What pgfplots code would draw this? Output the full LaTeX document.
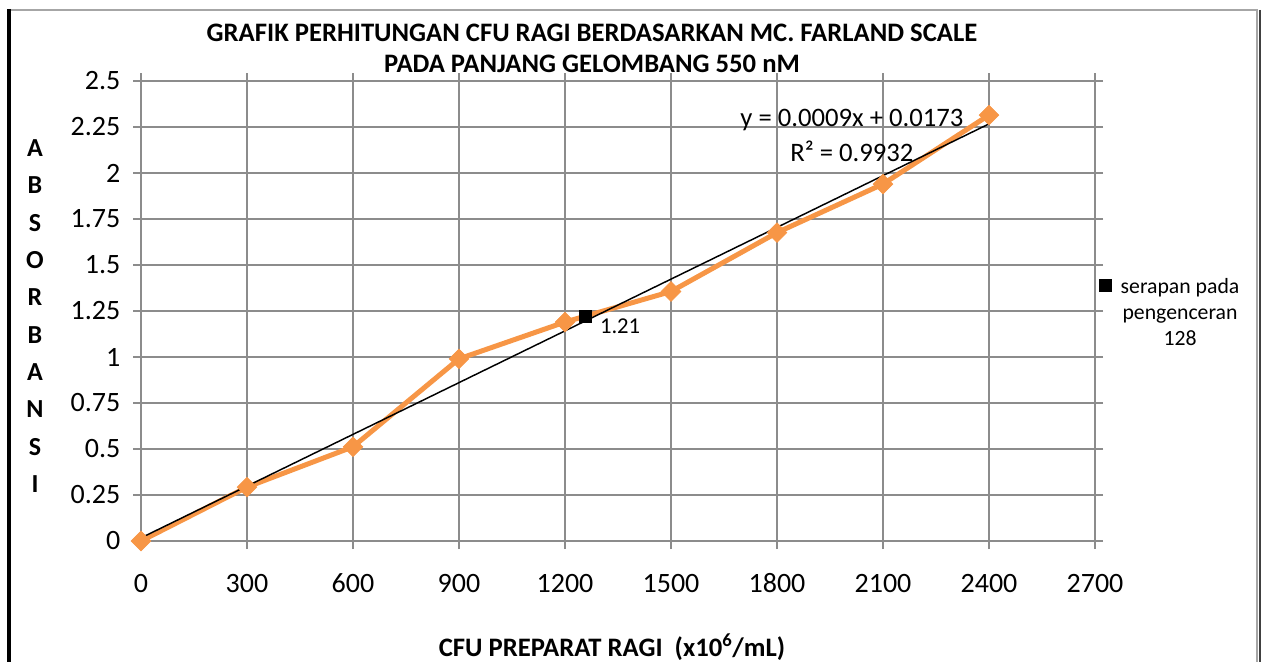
\documentclass[border=0pt]{standalone}
\usepackage{pgfplots}
\pgfplotsset{compat=1.18}
\usepackage{fontspec}
\setmainfont{Carlito}
\definecolor{xlorange}{HTML}{F79646}
\definecolor{gridgray}{HTML}{8C8C8C}
\begin{document}
\begin{tikzpicture}
\begin{scope}[x=0.75pt,y=0.75pt]
\useasboundingbox (0,0) rectangle (1261,662);
% frame
\draw[gray!70, line width=1.5pt] (9,652) -- (1257,652) -- (1257,0);
\draw[black!75, line width=1.5pt] (1260,652) -- (1260,0);
\draw[black, line width=3pt] (9,653) -- (9,0);
% title
\node[font=\bfseries\fontsize{20}{23.3}\selectfont, align=center] at (592,614) {GRAFIK PERHITUNGAN CFU RAGI BERDASARKAN MC. FARLAND SCALE\\PADA PANJANG GELOMBANG 550 nM};
% y label
\node[font=\bfseries\fontsize{19.5}{28.0}\selectfont, align=center] at (35,346) {A\\B\\S\\O\\R\\B\\A\\N\\S\\I};
% x label
\node[font=\bfseries\fontsize{20}{22}\selectfont] at (612,15) {CFU PREPARAT RAGI\ \ (x10\textsuperscript{6}/mL)};
\end{scope}
\begin{axis}[
  at={(105.75pt,90.75pt)}, anchor=south west,
  scale only axis, width=715.5pt, height=345pt,
  xmin=0, xmax=2700, ymin=0, ymax=2.5,
  xtick={0,300,...,2700},
  ytick={0,0.25,0.5,0.75,1,1.25,1.5,1.75,2,2.25,2.5},
  yticklabels={0,0.25,0.5,0.75,1,1.25,1.5,1.75,2,2.25,2.5},
  xticklabels={0,300,600,900,1200,1500,1800,2100,2400,2700},
  /pgf/number format/assume math mode=true,
  tick label style={font=\fontsize{21}{24}\selectfont},
  xticklabel style={yshift=-15pt, text height=14pt, text depth=0pt},
  yticklabel style={xshift=-6pt},
  grid=major,
  grid style={gridgray, line width=1.4pt},
  axis line style={gridgray, line width=1.4pt},
  tick style={gridgray, line width=1.4pt},
  tick align=outside,
  major tick length=6pt,
  clip=false,
  legend style={at={(1.004,0.579)}, anchor=north west, draw=none, fill=none,
    font=\fontsize{16.3}{19.5}\selectfont, inner sep=0pt,
    nodes={inner xsep=3pt, inner ysep=0pt}},
  legend cell align=left,
]
\addplot[xlorange, line width=3.75pt, mark=square*, mark size=5.2pt,
  mark options={rotate=45, fill=xlorange, draw=xlorange, line width=0.5pt}, forget plot]
  coordinates {(0,0) (300,0.293) (600,0.512) (900,0.99) (1200,1.19) (1500,1.356) (1800,1.676) (2100,1.94) (2400,2.315)};
\addplot[black, line width=1.1pt, forget plot] coordinates {(0,0.017) (2400,2.267)};
\addplot[only marks, mark=square*, mark size=4.6pt, black] coordinates {(1257,1.222)};
\addlegendentry{\hspace{4pt}\begin{tabular}[t]{@{}c@{}}serapan pada\\pengenceran\\128\end{tabular}}
\node[font=\fontsize{17}{20}\selectfont] at (axis cs:1356,1.166) {1.21};
\node[font=\fontsize{20}{22}\selectfont] at (axis cs:2012,2.29) {y = 0.0009x + 0.0173};
\node[font=\fontsize{20}{22}\selectfont] at (axis cs:2012,2.12) {R² = 0.9932};
\end{axis}
\end{tikzpicture}
\end{document}
